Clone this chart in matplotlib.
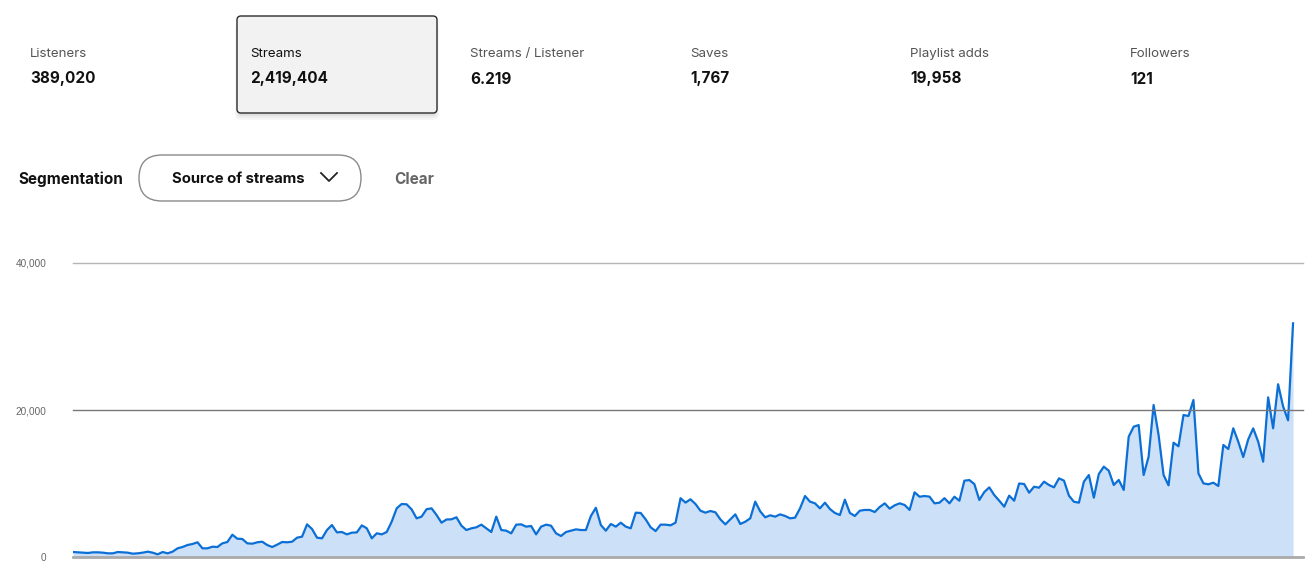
import numpy as np
import matplotlib.pyplot as plt
from matplotlib.patches import FancyBboxPatch
from matplotlib.lines import Line2D
from matplotlib.transforms import IdentityTransform
from matplotlib.ticker import FuncFormatter

# Metric cards
metric_names = ["Listeners", "Streams", "Streams / Listener", "Saves", "Playlist adds", "Followers"]
metric_values = ["389,020", "2,419,404", "6.219", "1,767", "19,958", "121"]
selected_metric = "Streams"

# Daily streams (roughly every other day)
streams = [
    680, 635, 590, 545, 635, 635, 590, 500, 500, 680,
    635, 590, 450, 500, 590, 725, 590, 360, 680, 500,
    725, 1180, 1360, 1630, 1770, 2000, 1180, 1180, 1400, 1360,
    1860, 2040, 3030, 2490, 2450, 1860, 1810, 2000, 2080, 1630,
    1360, 1680, 2040, 2000, 2080, 2630, 2770, 4440, 3810, 2630,
    2540, 3670, 4350, 3350, 3400, 3080, 3310, 3350, 4300, 3900,
    2540, 3220, 3080, 3400, 4810, 6620, 7210, 7170, 6480, 5260,
    5490, 6500, 6620, 5720, 4670, 5100, 5130, 5400, 4260, 3670,
    3900, 4040, 4400, 3900, 3400, 5490, 3670, 3580, 3220, 4400,
    4440, 4130, 4220, 3080, 4130, 4400, 4260, 3220, 2860, 3400,
    3580, 3760, 3670, 3670, 5580, 6700, 4350, 3580, 4490, 4130,
    4670, 4130, 3900, 6030, 5990, 5120, 4040, 3530, 4400, 4400,
    4310, 4670, 8000, 7400, 7850, 7210, 6300, 6030, 6260, 6080,
    5120, 4440, 5120, 5800, 4490, 4800, 5260, 7530, 6210, 5400,
    5670, 5490, 5800, 5580, 5260, 5350, 6620, 8300, 7530,
    7300, 6620, 7390, 6530, 5990, 5710, 7800, 6000, 5580, 6300,
    6400, 6400, 6120, 6800, 7300, 6580, 7030, 7300, 7080, 6400,
    8800, 8200, 8300, 8210, 7300, 7390, 8000, 7300, 8200, 7660,
    10380, 10470, 9930, 7760, 8840, 9470, 8430, 7660, 6850, 8350,
    7660, 10000, 9930, 8750, 9560, 9430, 10250, 9790,
    9480, 10700, 10390, 8340, 7520, 7390, 10250, 11150, 8070, 11290,
    12290, 11740, 9800, 10480, 9120, 16370, 17730, 17950, 11160, 13650,
    20680, 16600, 11160, 9750, 15550, 15060, 19320, 19180, 21360, 11380,
    10020, 9890, 10110, 9660, 15240, 14700, 17510, 15690, 13600, 16000,
    17500, 15690, 12970, 21720, 17510, 23500, 20500, 18600, 31790,
]
y_ticks = [0, 20000, 40000]

W, H = 1315, 572
fig = plt.figure(figsize=(W / 100, H / 100), dpi=100)
fig.patch.set_facecolor("white")
ui_font = ["Inter", "DejaVu Sans"]


def fx(x):
    return x / W


def fy(y):
    return 1 - y / H


# --- header cards ---
card_x = [30, 250, 470, 690, 910, 1130]
for name, value, x in zip(metric_names, metric_values, card_x):
    if name == selected_metric:
        for k, a in enumerate([0.05, 0.04, 0.03]):
            sh = FancyBboxPatch((237 - k, H - 113 - 3 - 2 * k), 200 + 2 * k, 97,
                                boxstyle="round,pad=0,rounding_size=5",
                                transform=IdentityTransform(), facecolor="black",
                                edgecolor="none", alpha=a)
            fig.patches.append(sh)
        card = FancyBboxPatch((237, H - 113), 200, 97, boxstyle="round,pad=0,rounding_size=4",
                              transform=IdentityTransform(), facecolor="#f2f2f2",
                              edgecolor="#2b2b2b", linewidth=1)
        fig.patches.append(card)
    fig.text(fx(x), fy(54), name, fontsize=9.6, color="#555555" if name != selected_metric else "#111111",
             family=ui_font, va="center", ha="left")
    fig.text(fx(x), fy(79), value, fontsize=11, fontweight="bold", color="#111111",
             family=ui_font, va="center", ha="left")

# --- segmentation row ---
fig.text(fx(18), fy(179), "Segmentation", fontsize=11, fontweight="bold", color="#111111",
         family=ui_font, va="center", ha="left")
pill = FancyBboxPatch((139, H - 201), 222, 46, boxstyle="round,pad=0,rounding_size=23",
                      transform=IdentityTransform(), facecolor="white", edgecolor="#8a8a8a",
                      linewidth=1)
fig.patches.append(pill)
fig.text(fx(172), fy(179), "Source of streams", fontsize=10.7, fontweight="bold", color="#111111",
         family=ui_font, va="center", ha="left")
fig.lines.append(Line2D([321, 329, 337], [H - 173, H - 181, H - 173], transform=IdentityTransform(),
                        color="#222222", linewidth=1.3))
fig.text(fx(394), fy(179), "Clear", fontsize=11, fontweight="bold", color="#666666",
         family=ui_font, va="center", ha="left")

# --- chart ---
ax = fig.add_axes([73 / W, (H - 557) / H, 1230 / W, 294 / H])
x = np.arange(len(streams))
ax.fill_between(x, streams, 0, color="#cce0f7", linewidth=0)
ax.plot(x, streams, color="#0b6fd6", linewidth=1.6, solid_joinstyle="round")

ax.set_xlim(0, len(streams) + 1)
ax.set_ylim(0, 40000)
for v in y_ticks:
    if v == 0:
        ax.axhline(v, color="#aaaaaa", linewidth=2, clip_on=False, zorder=3)
    elif v == 40000:
        ax.axhline(v, color="#b5b5b5", linewidth=1, clip_on=False, zorder=0)
    else:
        ax.axhline(v, color="#777777", linewidth=1, clip_on=False, zorder=3)

ax.set_yticks(y_ticks)
ax.yaxis.set_major_formatter(FuncFormatter(lambda v, p: f"{int(v):,}"))
ax.tick_params(axis="y", length=0, pad=19, labelsize=7.2, labelcolor="#666666")
for lab in ax.get_yticklabels():
    lab.set_family(["Liberation Sans", "DejaVu Sans"])
ax.set_xticks([])
for s in ax.spines.values():
    s.set_visible(False)

fig.savefig("out.png", dpi=100)
